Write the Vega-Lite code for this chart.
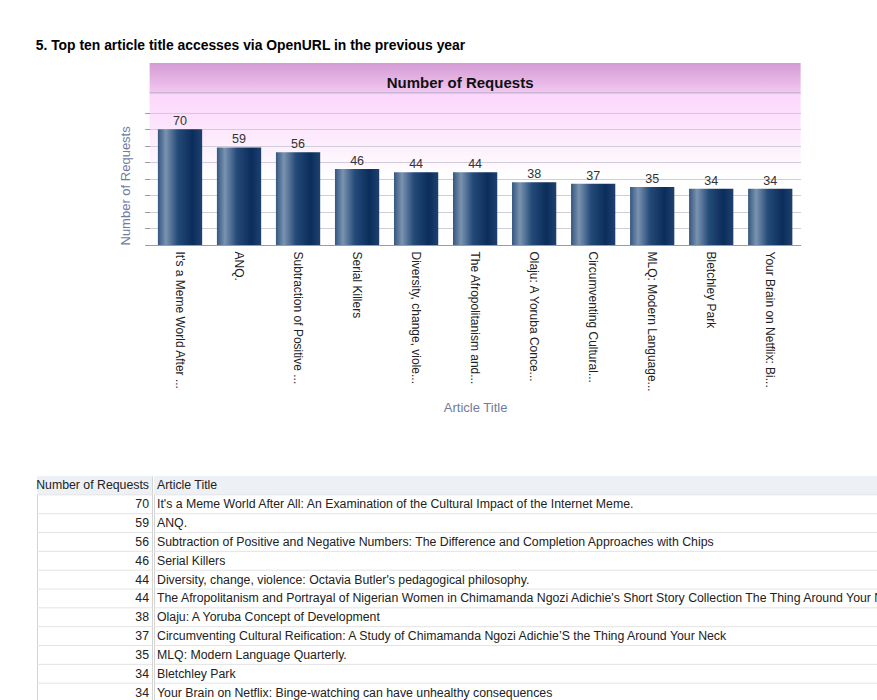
{
  "$schema": "https://vega.github.io/schema/vega-lite/v6.json",
  "background": "white",
  "padding": {"left": 35, "top": 39, "right": 0, "bottom": 0},
  "title": {"text": "5. Top ten article title accesses via OpenURL in the previous year", "anchor": "start", "fontSize": 13.9, "font": "Liberation Sans", "fontWeight": "bold", "color": "#000000", "offset": 10},
  "datasets": {
    "articles": [
      {"rank": 1, "requests": 70, "label": "It's a Meme World After ...", "title": "It's a Meme World After All: An Examination of the Cultural Impact of the Internet Meme."},
      {"rank": 2, "requests": 59, "label": "ANQ.", "title": "ANQ."},
      {"rank": 3, "requests": 56, "label": "Subtraction of Positive ...", "title": "Subtraction of Positive and Negative Numbers: The Difference and Completion Approaches with Chips"},
      {"rank": 4, "requests": 46, "label": "Serial Killers", "title": "Serial Killers"},
      {"rank": 5, "requests": 44, "label": "Diversity, change, viole...", "title": "Diversity, change, violence: Octavia Butler's pedagogical philosophy."},
      {"rank": 6, "requests": 44, "label": "The Afropolitanism and...", "title": "The Afropolitanism and Portrayal of Nigerian Women in Chimamanda Ngozi Adichie's Short Story Collection The Thing Around Your Neck"},
      {"rank": 7, "requests": 38, "label": "Olaju: A Yoruba Conce...", "title": "Olaju: A Yoruba Concept of Development"},
      {"rank": 8, "requests": 37, "label": "Circumventing Cultural...", "title": "Circumventing Cultural Reification: A Study of Chimamanda Ngozi Adichie’S the Thing Around Your Neck"},
      {"rank": 9, "requests": 35, "label": "MLQ: Modern Language...", "title": "MLQ: Modern Language Quarterly."},
      {"rank": 10, "requests": 34, "label": "Bletchley Park", "title": "Bletchley Park"},
      {"rank": 11, "requests": 34, "label": "Your Brain on Netflix: Bi...", "title": "Your Brain on Netflix: Binge-watching can have unhealthy consequences"}
    ],
    "header": [{"rank": 0}]
  },
  "center": true,
  "spacing": 60,
  "vconcat": [
    {
      "width": 651,
      "height": 182,
      "view": {"stroke": null, "fill": {"gradient": "linear", "x1": 0, "y1": 0, "x2": 0, "y2": 1, "stops": [
            {"offset": 0, "color": "#d49bd4"},
            {"offset": 0.16, "color": "#f2c6f1"},
            {"offset": 0.17, "color": "#fcd6fc"},
            {"offset": 0.45, "color": "#fdeefd"},
            {"offset": 0.62, "color": "#ffffff"},
            {"offset": 1, "color": "#ffffff"}
          ]}},
      "title": {"text": "Number of Requests", "offset": -28, "dx": -15, "fontSize": 15, "font": "Liberation Sans", "fontWeight": "bold", "color": "#111111", "anchor": "middle"},
      "layer": [
        {
          "data": {"name": "header"},
          "mark": {"type": "rule", "color": "#c7b7d2", "strokeWidth": 1.5},
          "encoding": {"y": {"datum": 92, "type": "quantitative"}}
        },
        {
          "data": {"name": "articles"},
          "mark": {"type": "bar", "color": {"gradient": "linear", "x1": 0, "y1": 0, "x2": 1, "y2": 0, "stops": [
            {"offset": 0, "color": "#34577f"},
            {"offset": 0.18, "color": "#7a93b0"},
            {"offset": 0.45, "color": "#244a78"},
            {"offset": 0.78, "color": "#0b2d5c"},
            {"offset": 1, "color": "#1f4170"}
          ]}},
          "encoding": {
            "x": {"field": "label", "type": "nominal", "sort": null,
              "scale": {"paddingInner": 0.25, "paddingOuter": 0.14},
              "axis": {"labelAngle": 90, "labelAlign": "left", "labelBaseline": "middle", "labelFontSize": 12, "labelColor": "#222222", "labelPadding": 6, "labelLimit": 0, "ticks": false, "domainColor": "#9a9aaa", "title": "Article Title", "titleFontSize": 13, "titleColor": "#6f7ba0", "titleFontWeight": "normal", "titlePadding": 10}},
            "y": {"field": "requests", "type": "quantitative",
              "scale": {"domain": [0, 110], "nice": false},
              "axis": {"values": [0, 10, 20, 30, 40, 50, 60, 70, 80], "tickCount": 20, "labels": false, "domain": false, "ticks": true, "tickSize": 5, "tickColor": "#9a9aa4", "grid": true, "gridColor": "#d2ccd9", "gridWidth": 1, "title": "Number of Requests", "titleFontSize": 13, "titleFontWeight": "normal", "titleColor": "#6f7ba0", "titlePadding": 12, "titleAnchor": "start"}}
          }
        },
        {
          "data": {"name": "articles"},
          "mark": {"type": "text", "baseline": "bottom", "dy": -1, "fontSize": 12.5, "color": "#333333"},
          "encoding": {
            "x": {"field": "label", "type": "nominal", "sort": null},
            "y": {"field": "requests", "type": "quantitative"},
            "text": {"field": "requests", "type": "quantitative"}
          }
        }
      ]
    },
    {
      "spacing": 0,
      "hconcat": [
        {
          "width": 115,
          "height": 226,
          "view": {"stroke": "#d4d4d4"},
          "layer": [
            {
              "data": {"name": "header"},
              "mark": {"type": "rect", "color": "#edf1f6"},
              "encoding": {"y": {"field": "rank", "type": "ordinal", "scale": {"domain": [0,1,2,3,4,5,6,7,8,9,10,11], "paddingInner": 0, "paddingOuter": 0}, "axis": null}}
            },
            {
              "data": {"name": "articles"},
              "mark": {"type": "rule", "color": "#e3e3e3"},
              "encoding": {"y": {"field": "rank", "type": "ordinal", "bandPosition": 0}}
            },
            {
              "data": {"name": "header"},
              "mark": {"type": "text", "align": "right", "baseline": "middle", "dx": -3, "fontSize": 12.3, "color": "#222222"},
              "encoding": {
                "x": {"datum": 1, "type": "quantitative", "scale": {"domain": [0, 1]}, "axis": null},
                "y": {"field": "rank", "type": "ordinal"},
                "text": {"value": "Number of Requests"}
              }
            },
            {
              "data": {"name": "articles"},
              "mark": {"type": "text", "align": "right", "baseline": "middle", "dx": -3, "fontSize": 12.3, "color": "#222222"},
              "encoding": {
                "x": {"datum": 1, "type": "quantitative"},
                "y": {"field": "rank", "type": "ordinal"},
                "text": {"field": "requests", "type": "quantitative"}
              }
            }
          ]
        },
        {
          "width": 759,
          "height": 226,
          "view": {"stroke": "#d4d4d4"},
          "layer": [
            {
              "data": {"name": "header"},
              "mark": {"type": "rect", "color": "#edf1f6"},
              "encoding": {"y": {"field": "rank", "type": "ordinal", "scale": {"domain": [0,1,2,3,4,5,6,7,8,9,10,11], "paddingInner": 0, "paddingOuter": 0}, "axis": null}}
            },
            {
              "data": {"name": "articles"},
              "mark": {"type": "rule", "color": "#e3e3e3"},
              "encoding": {"y": {"field": "rank", "type": "ordinal", "bandPosition": 0}}
            },
            {
              "data": {"name": "header"},
              "mark": {"type": "text", "align": "left", "baseline": "middle", "dx": 3, "fontSize": 12.3, "color": "#222222"},
              "encoding": {
                "x": {"datum": 0, "type": "quantitative", "scale": {"domain": [0, 1]}, "axis": null},
                "y": {"field": "rank", "type": "ordinal"},
                "text": {"value": "Article Title"}
              }
            },
            {
              "data": {"name": "articles"},
              "mark": {"type": "text", "align": "left", "baseline": "middle", "dx": 3, "fontSize": 12.3, "color": "#222222", "clip": true},
              "encoding": {
                "x": {"datum": 0, "type": "quantitative"},
                "y": {"field": "rank", "type": "ordinal"},
                "text": {"field": "title", "type": "nominal"}
              }
            }
          ]
        }
      ]
    }
  ],
  "config": {
    "font": "Liberation Sans",
    "view": {"stroke": null}
  }
}
